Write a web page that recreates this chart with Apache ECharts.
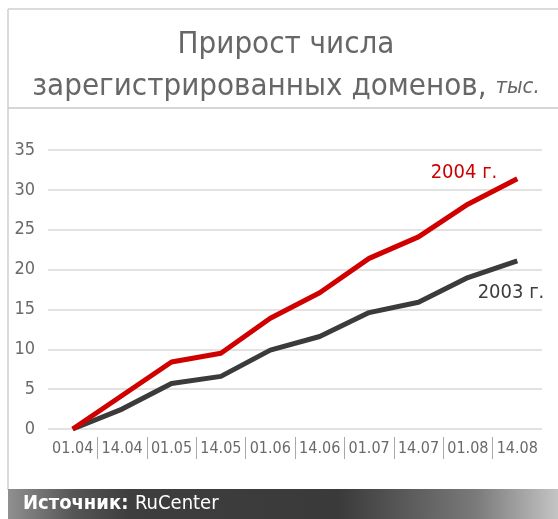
<!DOCTYPE html>
<html><head><meta charset="utf-8">
<script src="https://cdn.jsdelivr.net/npm/echarts@6/dist/echarts.min.js"></script>
<style>html,body{margin:0;padding:0;background:#fff}#c{width:558px;height:519px}</style>
</head><body><div id="c"></div>
<script>
var categories = ['01.04','14.04','01.05','14.05','01.06','14.06','01.07','14.07','01.08','14.08'];
var values2004 = [0, 4.2, 8.4, 9.5, 13.9, 17.1, 21.4, 24.1, 28.2, 31.4];
var values2003 = [0, 2.5, 5.7, 6.6, 9.9, 11.6, 14.6, 15.9, 19.0, 21.1];
var yTicks = [0, 5, 10, 15, 20, 25, 30, 35];
var separators = [1,2,3,4,5,6,7,8,9];
var seriesNames = ['2004 г.', '2003 г.'];

var FONT = '"DejaVu Sans Condensed", "Liberation Sans", sans-serif';
var chart = echarts.init(document.getElementById('c'), null, {renderer: 'canvas'});

chart.setOption({
  backgroundColor: '#ffffff',
  animation: false,
  title: {
    text: 'Прирост числа\nзарегистрированных доменов, {i|тыс.}',
    left: 281, top: 19, textAlign: 'center',
    textStyle: {
      fontFamily: FONT, fontSize: 31, fontWeight: 'normal', color: '#676767', lineHeight: 42,
      rich: { i: { fontFamily: FONT, fontSize: 22, fontStyle: 'italic', color: '#676767', lineHeight: 42 } }
    }
  },
  grid: { left: 48, right: 16, top: 150, bottom: 90 },
  xAxis: [{
    type: 'category', data: categories, boundaryGap: true,
    axisLine: {show: false}, axisTick: {show: false},
    axisLabel: { fontFamily: FONT, fontSize: 16, color: '#6a6a6a', margin: 12, interval: 0 }
  }, {
    type: 'value', min: 0, max: categories.length, position: 'bottom', offset: 8,
    axisLine: {show: false}, splitLine: {show: false},
    axisLabel: {show: false},
    axisTick: { show: true, length: 22, customValues: separators, lineStyle: {color: '#a8a8a8', width: 1} }
  }],
  yAxis: {
    type: 'value', min: 0, max: 35, interval: 5,
    axisLine: {show: false}, axisTick: {show: false},
    axisLabel: { fontFamily: FONT, fontSize: 18, color: '#6a6a6a', margin: 13, customValues: yTicks },
    splitLine: { lineStyle: { color: '#e2e2e2', width: 2 } }
  },
  series: [{
    name: seriesNames[1], type: 'line', data: values2003,
    showSymbol: false, symbol: 'none', lineStyle: { color: '#3b3b3b', width: 5 }, z: 2,
    endLabel: { show: true, formatter: seriesNames[1], distance: 0, align: 'right', verticalAlign: 'middle',
      offset: [27, 32], fontFamily: FONT, fontSize: 20, color: '#3d3d3d' }
  }, {
    name: seriesNames[0], type: 'line', data: values2004,
    showSymbol: false, symbol: 'none', lineStyle: { color: '#d00000', width: 5 }, z: 3,
    endLabel: { show: true, formatter: seriesNames[0], distance: 0, align: 'right', verticalAlign: 'middle',
      offset: [-20, -6], fontFamily: FONT, fontSize: 20, color: '#cc0000' }
  }],
  graphic: [
    { type: 'line', shape: {x1: 8, y1: 9, x2: 558, y2: 9}, style: {stroke: '#cfcfcf', lineWidth: 1.5}, silent: true },
    { type: 'line', shape: {x1: 8, y1: 9, x2: 8, y2: 490}, style: {stroke: '#cfcfcf', lineWidth: 1.5}, silent: true },
    { type: 'line', shape: {x1: 8, y1: 108, x2: 558, y2: 108}, style: {stroke: '#c8c8c8', lineWidth: 1.5}, silent: true },
    { type: 'rect', shape: {x: 8, y: 489, width: 550, height: 30}, silent: true, z: 1,
      style: { fill: new echarts.graphic.LinearGradient(0, 0, 1, 0, [
        {offset: 0, color: '#909090'}, {offset: 0.12, color: '#555555'}, {offset: 0.22, color: '#3e3e3e'},
        {offset: 0.6, color: '#3a3a3a'}, {offset: 0.85, color: '#7a7a7a'}, {offset: 1, color: '#c4c4c4'}]) } },
    { type: 'text', left: 23, top: 494, z: 2, silent: true,
      style: { text: '{b|Источник:}  {n|RuCenter}', fill: '#ffffff',
        rich: { b: {fontFamily: FONT, fontSize: 20, fontWeight: 'bold', fill: '#ffffff'},
                n: {fontFamily: FONT, fontSize: 20, fill: '#ffffff'} } } }
  ]
});
</script></body></html>
